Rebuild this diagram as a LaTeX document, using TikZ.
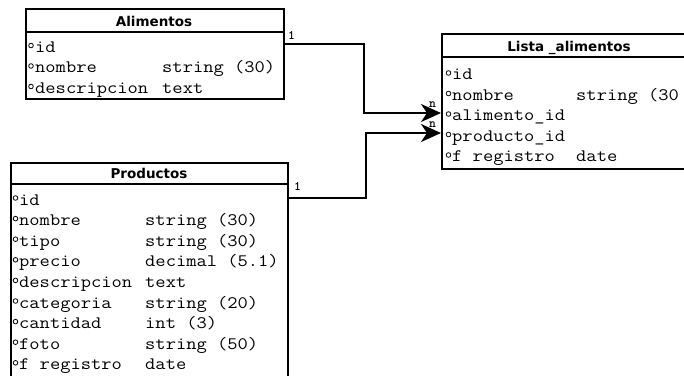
\documentclass[tikz,border=0pt]{standalone}
\usepackage{fontspec}
\newfontfamily\titlefont{DejaVu Sans}
\usetikzlibrary{arrows.meta,shadows,calc}
\newcommand{\mywide}[1]{\scalebox{1.14}[1]{#1}}
\begin{document}
\begin{tikzpicture}[x=1pt,y=1pt,
  tbl/.style={draw=black, line width=1.8pt, fill=white, anchor=north west, inner sep=0pt,
    drop shadow={shadow xshift=1.2pt, shadow yshift=-1.2pt, fill=black, opacity=1}},
  hdr/.style={draw=black, line width=1.8pt},
  ttl/.style={anchor=base, inner sep=0pt, font=\titlefont\bfseries\fontsize{13.5}{14}\selectfont},
  fld/.style={anchor=base west, inner sep=0pt, font=\ttfamily\fontsize{17.5}{20}\selectfont},
  dot/.style={draw=black, line width=0.8pt, circle, inner sep=0pt, minimum size=4.6pt},
  conn/.style={draw=black, line width=2.2pt, -{Stealth[length=20pt,width=18pt,inset=6pt]}},
  lbl/.style={anchor=base west, inner sep=0pt, font=\ttfamily\bfseries\fontsize{13}{14}\selectfont}]
\useasboundingbox (0,0) rectangle (684,375);
\clip (0,0) rectangle (684,375);

% ---- Alimentos
\node[tbl, minimum width=258pt, minimum height=90pt] (alim) at (25,367) {};
\draw[hdr] ($(alim.north west)+(0,-24)$) -- ($(alim.north east)+(0,-24)$);
\node[ttl] (alimt) at (154,348) {Alimentos};
\foreach \n/\t [count=\i] in {id/{}, nombre/{string (30)}, descripcion/{text}}{
  \pgfmathsetmacro{\yy}{322.5-20.5*(\i-1)}
  \node[dot] (ad\i) at (31,\yy+7) {};
  \node[fld] (an\i) at (35,\yy) {\mywide{\n}};
  \node[fld] (at\i) at (162,\yy) {\mywide{\t}};
}

% ---- Productos
\node[tbl, minimum width=277pt, minimum height=240pt] (prod) at (10,213) {};
\draw[hdr] ($(prod.north west)+(0,-22)$) -- ($(prod.north east)+(0,-22)$);
\node[ttl] (prodt) at (149,196) {Productos};
\foreach \n/\t [count=\i] in {id/{}, nombre/{string (30)}, tipo/{string (30)},
  precio/{decimal (5.1)}, descripcion/{text}, categoria/{string (20)},
  cantidad/{int (3)}, foto/{string (50)}, f registro/{date}}{
  \pgfmathsetmacro{\yy}{170-20.6*(\i-1)}
  \node[dot] (pd\i) at (15.5,\yy+7) {};
  \node[fld] (pn\i) at (19,\yy) {\mywide{\n}};
  \node[fld] (pt\i) at (145,\yy) {\mywide{\t}};
}

% ---- Lista _alimentos
\node[tbl, minimum width=256pt, minimum height=135pt] (lista) at (441,342) {};
\draw[hdr] ($(lista.north west)+(0,-24)$) -- ($(lista.north east)+(0,-24)$);
\node[ttl] (listat) at (569,323) {Lista \_alimentos};
\foreach \n/\t [count=\i] in {id/{}, nombre/{string (30}, alimento\_id/{},
  producto\_id/{}, f registro/{date}}{
  \pgfmathsetmacro{\yy}{295-20.5*(\i-1)}
  \node[dot] (ld\i) at (448.5,\yy+7) {};
  \node[fld] (ln\i) at (452,\yy) {\mywide{\n}};
  \node[fld] (lt\i) at (576,\yy) {\mywide{\t}};
}

% ---- connectors
\draw[conn] ($(alim.north east)+(0,-36)$) -- ++(79,0) |- ($(lista.north west)+(0,-80)$);
\draw[conn] ($(prod.north east)+(0,-36)$) -- ++(77,0) |- ($(lista.north west)+(0,-100)$);
\node[lbl] (l1) at (288,335) {1};
\node[lbl] (l2) at (294,184) {1};
\node[lbl] (l3) at (429,267) {n};
\node[lbl] (l4) at (429,247) {n};
\end{tikzpicture}
\end{document}
